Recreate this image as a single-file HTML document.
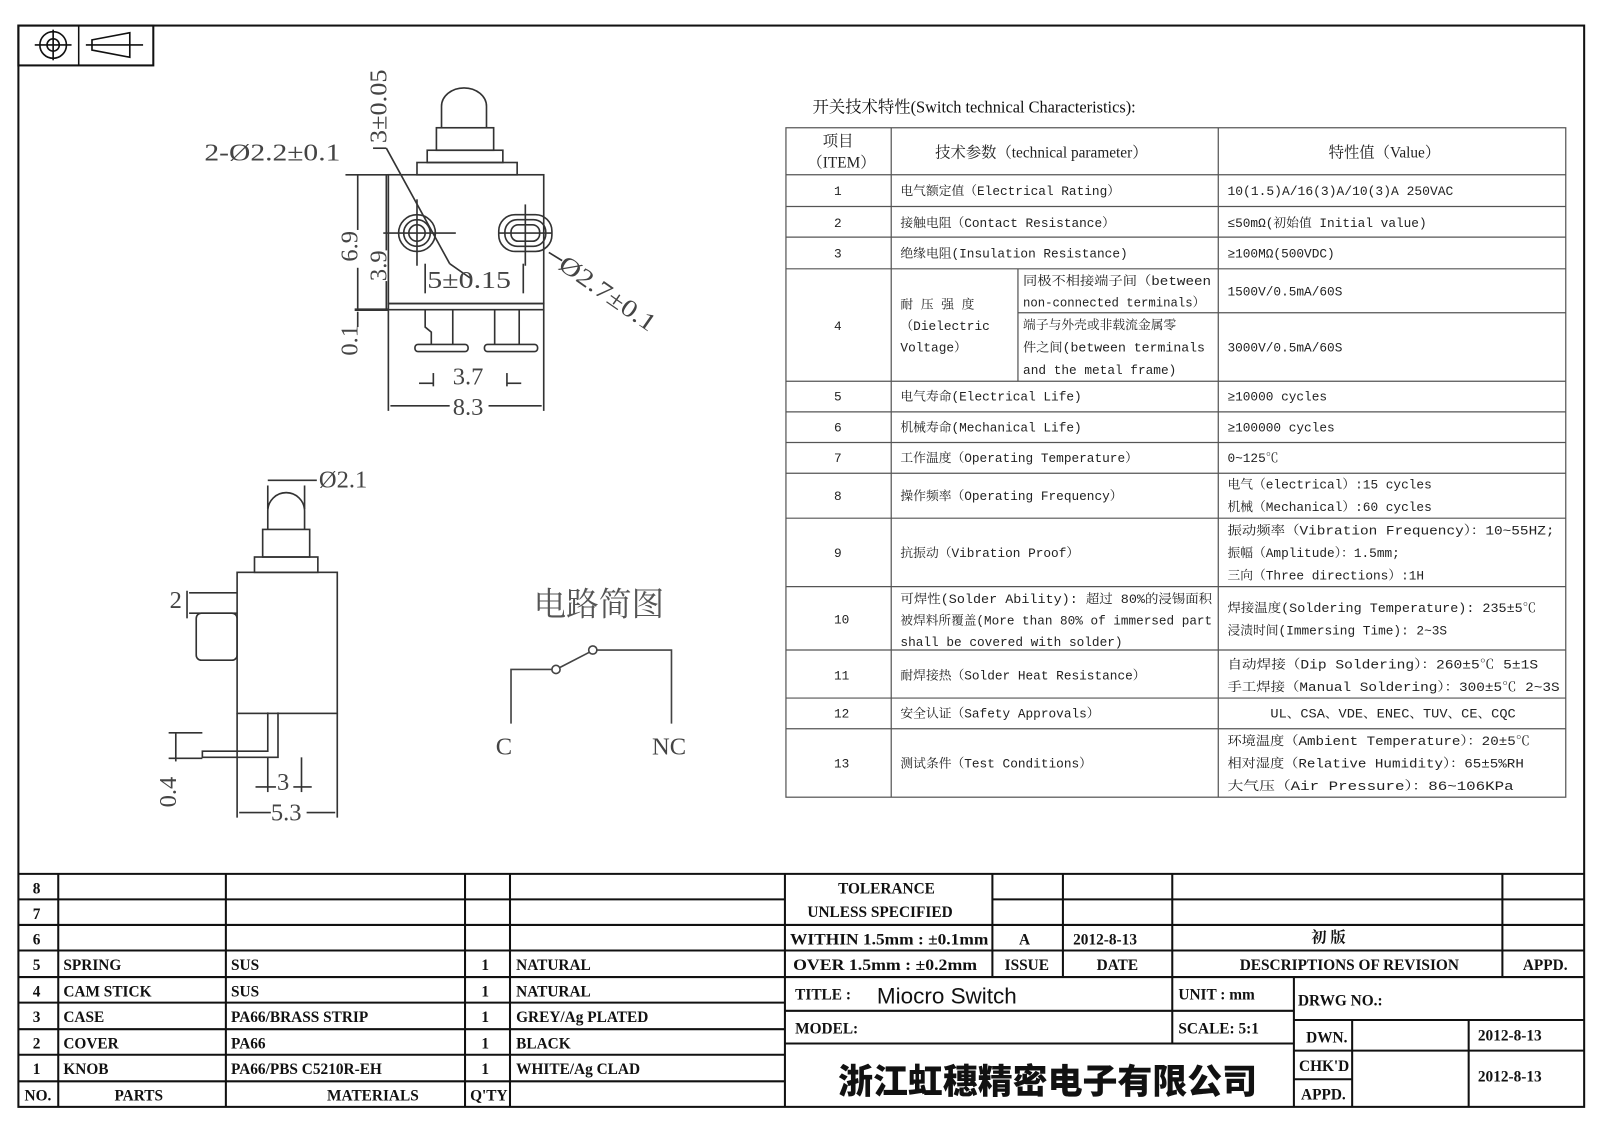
<!DOCTYPE html>
<html><head><meta charset="utf-8"><style>
html,body{margin:0;padding:0;background:#fff;}
svg{display:block;}
.b{font-family:"Liberation Serif","Noto Serif CJK SC",serif;font-weight:bold;font-size:15px;fill:#111;}
.t{font-family:"Liberation Mono","Noto Serif CJK SC",monospace;font-size:12.5px;fill:#222;}
.d{font-family:"Liberation Serif",serif;font-size:24px;fill:#444;}
</style></head><body>
<svg width="1600" height="1131" viewBox="0 0 1565.5 1106.6" xmlns="http://www.w3.org/2000/svg">
<rect width="1565.5" height="1106.6" fill="#fff"/>
<rect x="18" y="25" width="1532" height="1058" fill="none" stroke="#111" stroke-width="2"/>
<rect x="18" y="25" width="132" height="39" fill="none" stroke="#111" stroke-width="2"/>
<line x1="77" y1="25" x2="77" y2="64" stroke="#111" stroke-width="1.5"/>
<g stroke="#111" stroke-width="1.6" fill="none">
<circle cx="52" cy="44" r="13"/><circle cx="52" cy="44" r="6"/>
<line x1="34" y1="44" x2="70" y2="44"/><line x1="52" y1="29" x2="52" y2="59"/>
<polygon points="90,39 127,32 127,56 90,49"/><line x1="84" y1="44" x2="140" y2="44"/>
</g>

<g stroke="#333" stroke-width="1.6" fill="none">
<path d="M432,125 L432,104 A22,18 0 0 1 476,104 L476,125"/>
<rect x="427" y="125" width="56" height="22"/>
<rect x="418" y="147" width="74" height="12"/>
<rect x="408" y="159" width="98" height="12"/>
<rect x="380" y="171" width="152" height="126"/>
<rect x="380" y="297" width="152" height="6"/>
<line x1="347" y1="303" x2="380" y2="303" stroke-width="2.5"/>
<circle cx="408" cy="228" r="18"/><circle cx="408" cy="228" r="13"/><circle cx="408" cy="228" r="8"/>
<rect x="488" y="210" width="52" height="36" rx="16"/>
<rect x="494" y="215" width="40" height="26" rx="12"/>
<rect x="500" y="220" width="28" height="16" rx="7"/>
<line x1="375" y1="228" x2="446" y2="228"/><line x1="408" y1="195" x2="408" y2="260"/>
<line x1="488" y1="228" x2="540" y2="228"/><line x1="514" y1="200" x2="514" y2="260"/>
<line x1="365" y1="145" x2="378" y2="145"/>
<line x1="378" y1="145" x2="440" y2="258"/>
<line x1="440" y1="258" x2="460" y2="272"/>
<line x1="537" y1="247" x2="550" y2="255"/>
<path d="M416,303 L416,320 L422,325 L422,337 M443,303 L443,337"/>
<path d="M484,303 L484,337 M508,303 L508,337"/>
<rect x="406" y="337" width="52" height="7" rx="3"/>
<rect x="474" y="337" width="52" height="7" rx="3"/>
<line x1="350" y1="171" x2="350" y2="225"/><line x1="350" y1="262" x2="350" y2="303"/>
<line x1="378" y1="171" x2="378" y2="245"/><line x1="378" y1="275" x2="378" y2="303"/>
<line x1="338" y1="171" x2="380" y2="171"/>
<line x1="350" y1="305" x2="350" y2="320"/>
<line x1="380" y1="303" x2="380" y2="402"/><line x1="532" y1="303" x2="532" y2="402"/>
<line x1="382" y1="397" x2="440" y2="397"/><line x1="478" y1="397" x2="530" y2="397"/>
<line x1="424" y1="365" x2="424" y2="378"/><line x1="496" y1="365" x2="496" y2="378"/>
<line x1="410" y1="375" x2="424" y2="375"/><line x1="496" y1="375" x2="510" y2="375"/>
<line x1="416" y1="258" x2="416" y2="287"/><line x1="512" y1="258" x2="512" y2="287"/>
</g>
<text class="d" x="200" y="157" textLength="133" lengthAdjust="spacingAndGlyphs">2-Ø2.2±0.1</text>
<text class="d" transform="translate(378,140) rotate(-90)" textLength="72" lengthAdjust="spacingAndGlyphs">3±0.05</text>
<text class="d" transform="translate(350,256) rotate(-90)">6.9</text>
<text class="d" transform="translate(378,275) rotate(-90)" font-size="22">3.9</text>
<text class="d" transform="translate(350,348) rotate(-90)" font-size="22">0.1</text>
<text class="d" x="418" y="282" textLength="82" lengthAdjust="spacingAndGlyphs">5±0.15</text>
<text class="d" transform="translate(545,262) rotate(35)" textLength="110" lengthAdjust="spacingAndGlyphs">Ø2.7±0.1</text>
<text class="d" x="443" y="376">3.7</text>
<text class="d" x="443" y="406">8.3</text>

<g stroke="#333" stroke-width="1.6" fill="none">
<path d="M262,518 L262,500 A18,18 0 0 1 298,500 L298,518"/>
<rect x="257" y="518" width="46" height="27"/>
<rect x="249" y="545" width="62" height="15"/>
<rect x="232" y="560" width="98" height="138"/>
<rect x="192" y="600" width="40" height="46" rx="5"/>
<path d="M262,697 L262,735 L198,735 L198,741 L272,741 L272,697"/>
<line x1="262" y1="475" x2="262" y2="498"/><line x1="298" y1="475" x2="298" y2="498"/>
<line x1="262" y1="470" x2="310" y2="470"/>
<line x1="185" y1="580" x2="232" y2="580"/><line x1="185" y1="600" x2="232" y2="600"/>
<line x1="183" y1="578" x2="183" y2="605"/>
<line x1="165" y1="717" x2="198" y2="717"/><line x1="165" y1="742" x2="198" y2="742"/>
<line x1="172" y1="717" x2="172" y2="745"/>
<line x1="232" y1="698" x2="232" y2="800"/><line x1="330" y1="698" x2="330" y2="800"/>
<line x1="262" y1="741" x2="262" y2="775"/><line x1="295" y1="741" x2="295" y2="775"/>
<line x1="250" y1="770" x2="270" y2="770"/><line x1="287" y1="770" x2="305" y2="770"/>
<line x1="234" y1="795" x2="265" y2="795"/><line x1="300" y1="795" x2="328" y2="795"/>
</g>
<text class="d" x="312" y="477">Ø2.1</text>
<text class="d" x="166" y="595">2</text>
<text class="d" transform="translate(172,790) rotate(-90)" font-size="22">0.4</text>
<text class="d" x="271" y="773">3</text>
<text class="d" x="265" y="803">5.3</text>

<text x="522" y="602" style="font-family:'Noto Serif CJK SC','Noto Sans CJK SC',serif;font-size:32px;fill:#555">电路简图</text>
<g stroke="#444" stroke-width="1.6" fill="none">
<path d="M500,708 L500,655 L540,655"/>
<circle cx="544" cy="655" r="4"/>
<line x1="548" y1="653" x2="577" y2="638"/>
<circle cx="580" cy="636" r="4"/>
<path d="M584,636 L657,636 L657,708"/>
</g>
<text class="d" x="485" y="738" font-size="28">C</text>
<text class="d" x="638" y="738" font-size="28">NC</text>

<text x="795" y="110" style="font-family:'Liberation Serif','Noto Serif CJK SC',serif;font-size:16px;fill:#111">开关技术特性(Switch technical Characteristics):</text>
<g stroke="#555" stroke-width="1.2" fill="none">
<rect x="769" y="125" width="763" height="655"/>
<line x1="872" y1="125" x2="872" y2="780"/>
<line x1="1192" y1="125" x2="1192" y2="780"/>
<line x1="996" y1="263" x2="996" y2="373"/>
<line x1="996" y1="306" x2="1532" y2="306"/>
<line x1="769" y1="171" x2="1532" y2="171"/>
<line x1="769" y1="202" x2="1532" y2="202"/>
<line x1="769" y1="232" x2="1532" y2="232"/>
<line x1="769" y1="263" x2="1532" y2="263"/>
<line x1="769" y1="373" x2="1532" y2="373"/>
<line x1="769" y1="403" x2="1532" y2="403"/>
<line x1="769" y1="433" x2="1532" y2="433"/>
<line x1="769" y1="463" x2="1532" y2="463"/>
<line x1="769" y1="507" x2="1532" y2="507"/>
<line x1="769" y1="574" x2="1532" y2="574"/>
<line x1="769" y1="636" x2="1532" y2="636"/>
<line x1="769" y1="683" x2="1532" y2="683"/>
<line x1="769" y1="713" x2="1532" y2="713"/>
</g>
<g style="font-family:'Liberation Serif','Noto Serif CJK SC',serif;font-size:15px;fill:#222">
<text x="805" y="143">项目</text>
<text x="790" y="164">（ITEM）</text>
<text x="915" y="154">技术参数（technical parameter）</text>
<text x="1300" y="154">特性值（Value）</text>
</g>
<g class="t">
<text x="816" y="191">1</text><text x="881" y="191">电气额定值（Electrical Rating）</text><text x="1201" y="191" textLength="221" lengthAdjust="spacingAndGlyphs">10(1.5)A/16(3)A/10(3)A  250VAC</text>
<text x="816" y="222">2</text><text x="881" y="222">接触电阻（Contact  Resistance）</text><text x="1201" y="222">≤50mΩ(初始值 Initial value)</text>
<text x="816" y="252">3</text><text x="881" y="252">绝缘电阻(Insulation Resistance)</text><text x="1201" y="252">≥100MΩ(500VDC)</text>
<text x="816" y="323">4</text>
<text x="881" y="302">耐 压 强 度</text><text x="881" y="323">（Dielectric</text><text x="881" y="344">Voltage）</text>
<text x="1001" y="279" textLength="184" lengthAdjust="spacingAndGlyphs">同极不相接端子间（between</text><text x="1001" y="300" textLength="178" lengthAdjust="spacingAndGlyphs">non-connected terminals）</text>
<text x="1001" y="322">端子与外壳或非载流金属零</text><text x="1001" y="344" textLength="178" lengthAdjust="spacingAndGlyphs">件之间(between terminals</text><text x="1001" y="366">and the metal frame)</text>
<text x="1201" y="289">1500V/0.5mA/60S</text><text x="1201" y="344">3000V/0.5mA/60S</text>
<text x="816" y="392">5</text><text x="881" y="392">电气寿命(Electrical Life)</text><text x="1201" y="392">≥10000 cycles</text>
<text x="816" y="422">6</text><text x="881" y="422">机械寿命(Mechanical Life)</text><text x="1201" y="422">≥100000 cycles</text>
<text x="816" y="452">7</text><text x="881" y="452">工作温度（Operating Temperature）</text><text x="1201" y="452">0~125℃</text>
<text x="816" y="489">8</text><text x="881" y="489">操作频率（Operating Frequency）</text><text x="1201" y="478">电气（electrical）:15 cycles</text><text x="1201" y="500">机械（Mechanical）:60 cycles</text>
<text x="816" y="545">9</text><text x="881" y="545">抗振动（Vibration Proof）</text>
<text x="1201" y="523" textLength="320" lengthAdjust="spacingAndGlyphs">振动频率（Vibration Frequency）：10~55HZ;</text><text x="1201" y="545">振幅（Amplitude）：1.5mm;</text><text x="1201" y="567">三向（Three directions）:1H</text>
<text x="816" y="610">10</text><text x="881" y="590" textLength="305" lengthAdjust="spacingAndGlyphs">可焊性(Solder Ability): 超过 80%的浸锡面积</text><text x="881" y="611" textLength="305" lengthAdjust="spacingAndGlyphs">被焊料所覆盖(More than 80% of immersed part</text><text x="881" y="632">shall be covered with solder)</text>
<text x="1201" y="599" textLength="302" lengthAdjust="spacingAndGlyphs">焊接温度(Soldering Temperature): 235±5℃</text><text x="1201" y="621">浸渍时间(Immersing Time): 2~3S</text>
<text x="816" y="665">11</text><text x="881" y="665">耐焊接热（Solder Heat Resistance）</text><text x="1201" y="654" textLength="304" lengthAdjust="spacingAndGlyphs">自动焊接（Dip Soldering）：260±5℃ 5±1S</text><text x="1201" y="676" textLength="325" lengthAdjust="spacingAndGlyphs">手工焊接（Manual Soldering）：300±5℃ 2~3S</text>
<text x="816" y="702">12</text><text x="881" y="702">安全认证（Safety Approvals）</text><text x="1243" y="702" textLength="240" lengthAdjust="spacingAndGlyphs">UL、CSA、VDE、ENEC、TUV、CE、CQC</text>
<text x="816" y="751">13</text><text x="881" y="751">测试条件（Test Conditions）</text>
<text x="1201" y="729" textLength="296" lengthAdjust="spacingAndGlyphs">环境温度（Ambient Temperature）：20±5℃</text><text x="1201" y="751" textLength="290" lengthAdjust="spacingAndGlyphs">相对湿度（Relative Humidity）：65±5%RH</text><text x="1201" y="773" textLength="280" lengthAdjust="spacingAndGlyphs">大气压（Air Pressure）：86~106KPa</text>
</g>

<g stroke="#111" stroke-width="2" fill="none">
<line x1="18" y1="855" x2="1550" y2="855"/>
<line x1="18" y1="880" x2="768" y2="880"/><line x1="18" y1="905" x2="1550" y2="905"/>
<line x1="18" y1="930" x2="1550" y2="930"/><line x1="18" y1="956" x2="1550" y2="956"/>
<line x1="18" y1="981" x2="768" y2="981"/><line x1="18" y1="1007" x2="768" y2="1007"/>
<line x1="18" y1="1032" x2="768" y2="1032"/><line x1="18" y1="1058" x2="768" y2="1058"/>
<line x1="57" y1="855" x2="57" y2="1083"/><line x1="221" y1="855" x2="221" y2="1083"/>
<line x1="455" y1="855" x2="455" y2="1083"/><line x1="499" y1="855" x2="499" y2="1083"/>
<line x1="768" y1="855" x2="768" y2="1083"/>
<line x1="971" y1="855" x2="971" y2="956"/><line x1="1040" y1="855" x2="1040" y2="956"/>
<line x1="1147" y1="855" x2="1147" y2="1021"/><line x1="1470" y1="855" x2="1470" y2="956"/>
<line x1="971" y1="880" x2="1550" y2="880"/>
<line x1="768" y1="989" x2="1266" y2="989"/>
<line x1="768" y1="1021" x2="1266" y2="1021"/>
<line x1="1266" y1="956" x2="1266" y2="1083"/>
<line x1="1266" y1="998" x2="1550" y2="998"/>
<line x1="1266" y1="1028" x2="1550" y2="1028"/>
<line x1="1266" y1="1056" x2="1323" y2="1056"/>
<line x1="1323" y1="998" x2="1323" y2="1083"/><line x1="1437" y1="998" x2="1437" y2="1083"/>
</g>
<g class="b">
<text x="32" y="874">8</text><text x="32" y="899">7</text><text x="32" y="924">6</text>
<text x="32" y="949">5</text><text x="62" y="949">SPRING</text><text x="226" y="949">SUS</text><text x="471" y="949">1</text><text x="505" y="949">NATURAL</text>
<text x="32" y="975">4</text><text x="62" y="975">CAM STICK</text><text x="226" y="975">SUS</text><text x="471" y="975">1</text><text x="505" y="975">NATURAL</text>
<text x="32" y="1000">3</text><text x="62" y="1000">CASE</text><text x="226" y="1000">PA66/BRASS STRIP</text><text x="471" y="1000">1</text><text x="505" y="1000">GREY/Ag PLATED</text>
<text x="32" y="1026">2</text><text x="62" y="1026">COVER</text><text x="226" y="1026">PA66</text><text x="471" y="1026">1</text><text x="505" y="1026">BLACK</text>
<text x="32" y="1051">1</text><text x="62" y="1051">KNOB</text><text x="226" y="1051">PA66/PBS C5210R-EH</text><text x="471" y="1051">1</text><text x="505" y="1051">WHITE/Ag CLAD</text>
<text x="24" y="1077">NO.</text><text x="112" y="1077">PARTS</text><text x="320" y="1077">MATERIALS</text><text x="460" y="1077">Q'TY</text>
<text x="820" y="874">TOLERANCE</text>
<text x="790" y="897">UNLESS  SPECIFIED</text>
<text x="773" y="924" textLength="194" lengthAdjust="spacingAndGlyphs">WITHIN 1.5mm : ±0.1mm</text>
<text x="776" y="949" textLength="180" lengthAdjust="spacingAndGlyphs">OVER 1.5mm : ±0.2mm</text>
<text x="997" y="924">A</text><text x="1050" y="924">2012-8-13</text>
<text x="1283" y="922">初  版</text>
<text x="983" y="949">ISSUE</text><text x="1073" y="949">DATE</text>
<text x="1213" y="949">DESCRIPTIONS OF REVISION</text><text x="1490" y="949">APPD.</text>
<text x="778" y="978">TITLE :</text>
<text x="1153" y="978">UNIT :  mm</text>
<text x="1270" y="984">DRWG NO.:</text>
<text x="778" y="1011">MODEL:</text>
<text x="1153" y="1011">SCALE:  5:1</text>
<text x="1278" y="1020">DWN.</text><text x="1446" y="1018">2012-8-13</text>
<text x="1271" y="1048">CHK'D</text><text x="1446" y="1058">2012-8-13</text>
<text x="1273" y="1076">APPD.</text>
</g>
<text x="858" y="982" style="font-family:'Liberation Sans',sans-serif;font-size:22px;fill:#111">Miocro Switch</text>
<text x="820" y="1070" style="font-family:'Liberation Sans','Noto Sans CJK SC',sans-serif;font-weight:900;font-size:34px;fill:#111" textLength="410" lengthAdjust="spacingAndGlyphs">浙江虹穗精密电子有限公司</text>
</svg>
</body></html>
